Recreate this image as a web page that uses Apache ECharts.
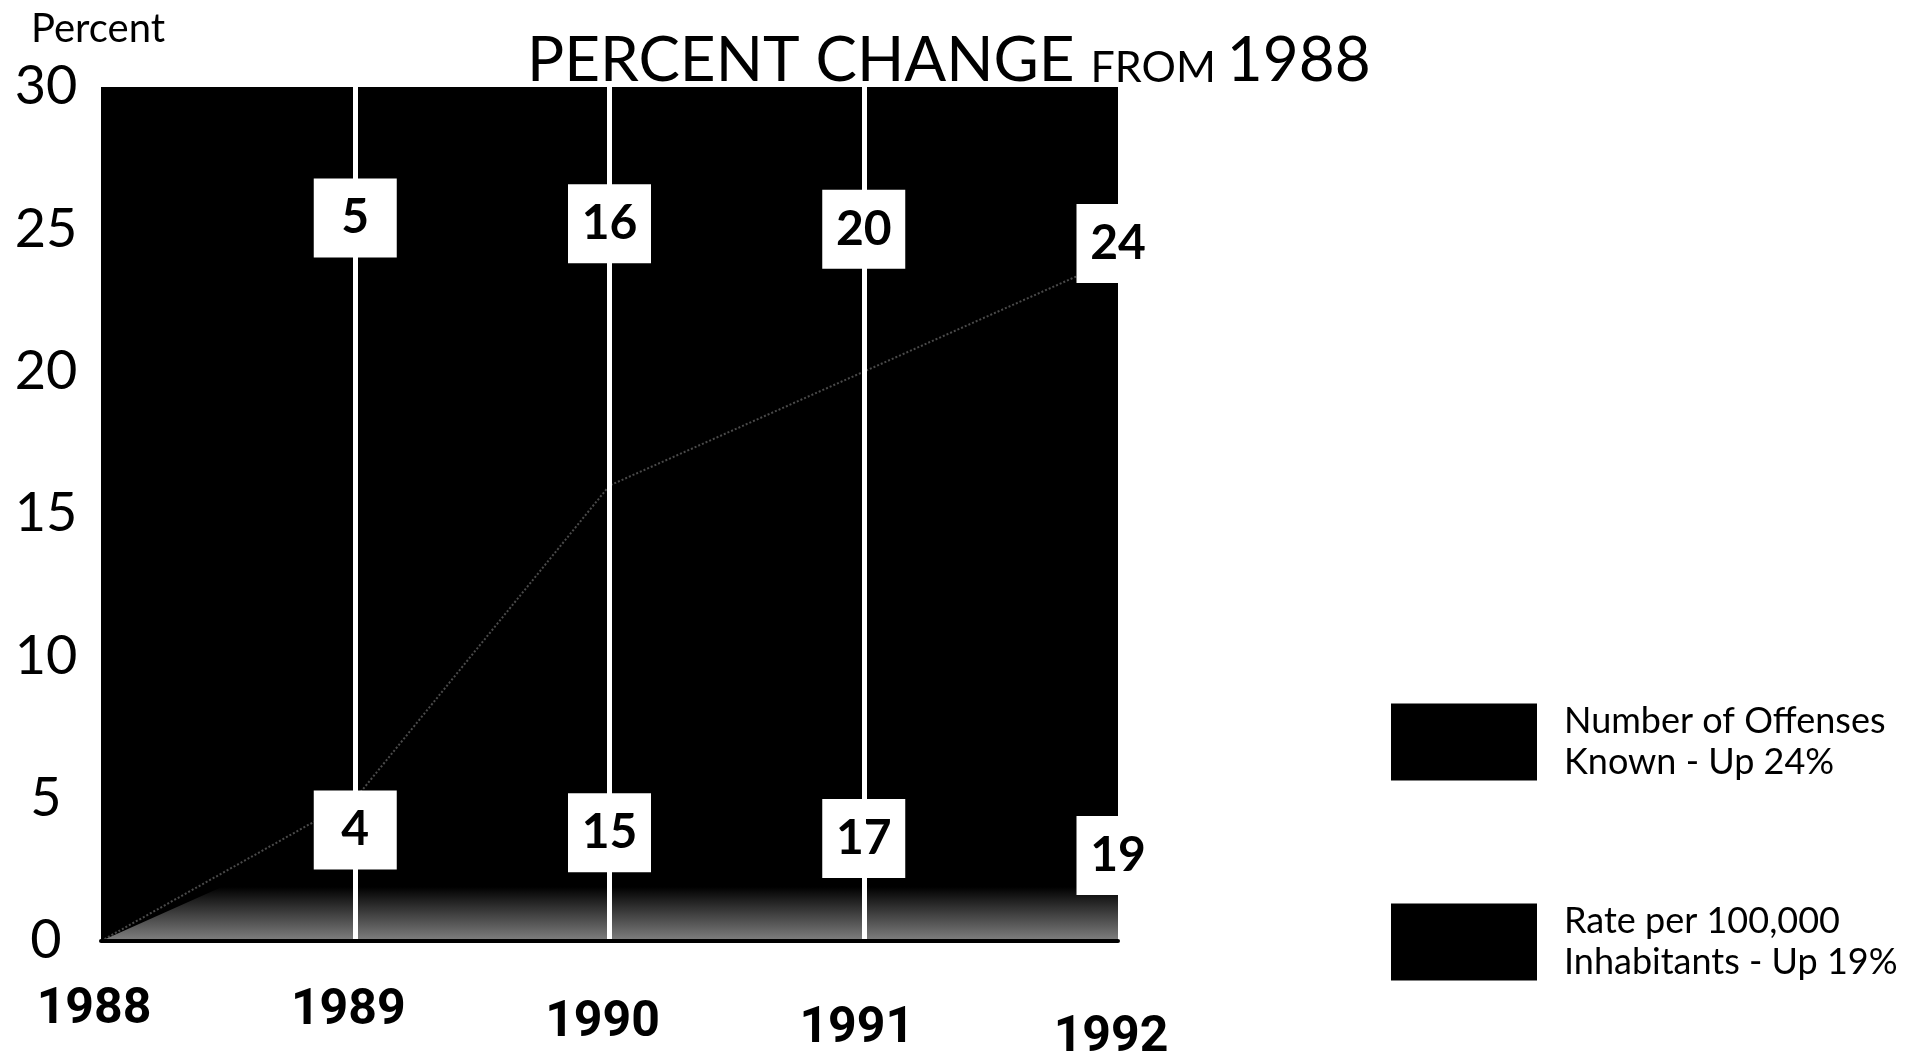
<!DOCTYPE html>
<html>
<head>
<meta charset="utf-8">
<script src="https://cdn.jsdelivr.net/npm/echarts@6/dist/echarts.min.js"></script>
<style>
html,body{margin:0;padding:0;background:#fff;}
#chart{width:1907px;height:1058px;}
</style>
</head>
<body>
<div id="chart"></div>
<script>
// ---- data ----
const years = ['1988', '1989', '1990', '1991', '1992'];
const offensesKnown = [0, 5, 16, 20, 24];
const ratePer100k = [0, 4, 15, 17, 19];
const yTicks = [0, 5, 10, 15, 20, 25, 30];
// heights (in percent units) where the value boxes sit
const offensesLabelHeight = [null, 25.4, 25.2, 25.0, 24.5];
const rateLabelHeight = [null, 3.9, 3.8, 3.6, 3.0];

const offName = 'Number of Offenses\nKnown - Up ' + offensesKnown[offensesKnown.length - 1] + '%';
const rateName = 'Rate per 100,000\nInhabitants - Up ' + ratePer100k[ratePer100k.length - 1] + '%';

function labelPoints(values, heights) {
  const out = [];
  for (let i = 0; i < values.length; i++) {
    if (heights[i] == null) continue;
    out.push({ value: [years[i], heights[i]], shown: values[i] });
  }
  return out;
}

const boxLabel = {
  show: true,
  position: 'inside',
  formatter: p => String(p.data.shown),
  backgroundColor: '#fff',
  color: '#000',
  opacity: 1,
  fontFamily: 'Lato, "Open Sans", sans-serif',
  fontWeight: 'bold',
  fontSize: 48,
  width: 83,
  height: 79,
  lineHeight: 79,
  align: 'center',
  verticalAlign: 'middle'
};

const xLabelDrop = [0, 1, 13, 19, 28];
const xRich = {};
xLabelDrop.forEach((d, i) => {
  xRich['y' + i] = {
    fontFamily: 'Roboto, "Liberation Sans", sans-serif',
    fontWeight: 'bold',
    fontSize: 50,
    color: '#000',
    padding: [d, 14, 0, 0]
  };
});

const chart = echarts.init(document.getElementById('chart'));
chart.setOption({
  animation: false,
  backgroundColor: '#fff',
  title: [
    {
      text: '{a|PERCENT CHANGE }{b|FROM }{a|1988}',
      left: 522,
      top: 19,
      z: 50,
      textStyle: {
        fontWeight: 'normal',
        rich: {
          a: { fontFamily: 'Lato, sans-serif', fontWeight: 'normal', fontSize: 62, color: '#000', verticalAlign: 'bottom', lineHeight: 68 },
          b: { fontFamily: 'Lato, sans-serif', fontWeight: 'normal', fontSize: 43, color: '#000', verticalAlign: 'bottom', lineHeight: 68, padding: [0, 0, 2, 0] }
        }
      }
    },
    {
      text: 'Percent',
      left: 26,
      top: 4,
      textStyle: { fontFamily: 'Lato, sans-serif', fontSize: 40, fontWeight: 'normal', color: '#000' }
    }
  ],
  legend: {
    data: [offName, rateName],
    orient: 'vertical',
    left: 1386,
    top: 696,
    icon: 'rect',
    itemWidth: 146,
    itemHeight: 77,
    itemGap: 118,
    itemStyle: { color: '#000' },
    textStyle: {
      fontFamily: 'Lato, sans-serif',
      fontSize: 36,
      lineHeight: 41,
      color: '#000',
      padding: [0, 0, 0, 22]
    }
  },
  grid: {
    left: 101,
    right: 789,
    top: 87,
    bottom: 117,
    outerBoundsMode: 'none',
    containLabel: false,
    show: true,
    backgroundColor: '#000',
    borderWidth: 0
  },
  xAxis: {
    type: 'category',
    data: years,
    boundaryGap: false,
    z: 10,
    axisLine: { show: true, lineStyle: { color: '#000', width: 4 } },
    axisTick: { show: false },
    splitLine: {
      show: true,
      interval: (idx) => idx > 0 && idx < years.length - 1,
      lineStyle: { color: '#fff', width: 5 }
    },
    axisLabel: {
      margin: 44,
      formatter: (v, i) => '{y' + i + '|' + v + '}',
      rich: xRich
    }
  },
  yAxis: {
    type: 'value',
    min: yTicks[0],
    max: yTicks[yTicks.length - 1],
    interval: 5,
    axisLine: { show: false },
    axisTick: { show: false },
    splitLine: { show: false },
    axisLabel: {
      margin: 55,
      align: 'center',
      fontFamily: 'Lato, sans-serif',
      fontSize: 54,
      color: '#000'
    }
  },
  series: [
    {
      name: offName,
      type: 'line',
      data: offensesKnown,
      color: '#000',
      showSymbol: false,
      lineStyle: { color: '#4a4a4a', width: 2, type: 'dotted' },
      areaStyle: { color: '#000', opacity: 1 },
      z: 2
    },
    {
      name: rateName,
      type: 'line',
      data: ratePer100k,
      color: '#000',
      showSymbol: false,
      lineStyle: { width: 0 },
      areaStyle: {
        opacity: 1,
        color: {
          type: 'linear', x: 0, y: 0, x2: 0, y2: 1,
          colorStops: [
            { offset: 0, color: '#000' },
            { offset: 0.9, color: '#000' },
            { offset: 1, color: '#808080' }
          ]
        }
      },
      z: 3
    },
    {
      type: 'scatter',
      data: labelPoints(offensesKnown, offensesLabelHeight),
      symbolSize: 0,
      silent: true,
      itemStyle: { opacity: 1 },
      label: boxLabel,
      z: 20
    },
    {
      type: 'scatter',
      data: labelPoints(ratePer100k, rateLabelHeight),
      symbolSize: 0,
      silent: true,
      itemStyle: { opacity: 1 },
      label: boxLabel,
      z: 20
    }
  ]
});
</script>
</body>
</html>
